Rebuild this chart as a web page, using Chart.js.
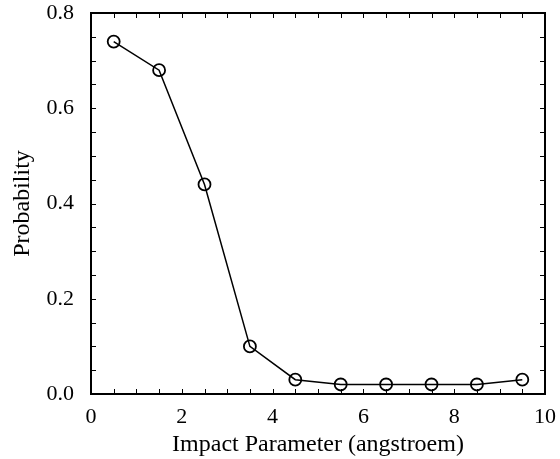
<!DOCTYPE html>
<html>
<head>
<meta charset="utf-8">
<script src="https://cdn.jsdelivr.net/npm/chart.js@4/dist/chart.umd.min.js"></script>
<style>
  html, body { margin: 0; padding: 0; background: #fff; }
  #wrap { width: 560px; height: 459px; }
</style>
</head>
<body>
<div id="wrap"><canvas id="c" width="560" height="459"></canvas></div>
<script>
// Impact parameter (angstroem) and the reaction probability at each value
const impactParameter = [0.5, 1.5, 2.5, 3.5, 4.5, 5.5, 6.5, 7.5, 8.5, 9.5];
const probability = [0.74, 0.68, 0.44, 0.10, 0.03, 0.02, 0.02, 0.02, 0.02, 0.03];

const xTickLabels = ['0', '2', '4', '6', '8', '10'];
const yTickLabels = ['0.0', '0.2', '0.4', '0.6', '0.8'];

const points = impactParameter.map((x, i) => ({ x: x, y: probability[i] }));

const serif = '"Liberation Serif", "Times New Roman", serif';

// Frame around the plot area with inward ticks on all four sides
const framePlugin = {
  id: 'frame',
  afterDraw(chart) {
    const { ctx, chartArea: a, scales: { x, y } } = chart;
    const len = 5;
    ctx.save();
    ctx.strokeStyle = '#000';
    ctx.lineWidth = 1;
    ctx.beginPath();
    for (let v = 0; v <= 10.0001; v += 0.5) {
      const px = Math.round(x.getPixelForValue(v)) + 0.5;
      ctx.moveTo(px, a.bottom); ctx.lineTo(px, a.bottom - len);
      ctx.moveTo(px, a.top); ctx.lineTo(px, a.top + len);
    }
    for (let v = 0; v <= 0.80001; v += 0.05) {
      const py = Math.round(y.getPixelForValue(v)) + 0.5;
      ctx.moveTo(a.left, py); ctx.lineTo(a.left + len, py);
      ctx.moveTo(a.right, py); ctx.lineTo(a.right - len, py);
    }
    ctx.stroke();
    ctx.lineWidth = 2;
    ctx.strokeRect(a.left, a.top, a.right - a.left, a.bottom - a.top);
    ctx.restore();
  }
};

new Chart(document.getElementById('c'), {
  type: 'scatter',
  data: {
    datasets: [{
      data: points,
      showLine: true,
      borderColor: '#000',
      borderWidth: 1.5,
      backgroundColor: 'rgba(0,0,0,0)',
      pointBorderColor: '#000',
      pointBackgroundColor: 'rgba(0,0,0,0)',
      pointBorderWidth: 1.8,
      pointRadius: 6,
      pointHoverRadius: 6,
      tension: 0
    }]
  },
  options: {
    responsive: false,
    animation: false,
    events: [],
    layout: { padding: { left: 0, right: 15, top: 13, bottom: 0 } },
    plugins: { legend: { display: false }, tooltip: { enabled: false } },
    scales: {
      x: {
        type: 'linear',
        min: 0, max: 10,
        grid: { display: false },
        border: { display: false },
        afterFit(s) { s.height = 65; s.paddingLeft = 0; s.paddingRight = 0; },
        ticks: {
          stepSize: 2,
          padding: 2,
          color: '#000',
          font: { family: serif, size: 22 },
          callback: (v) => xTickLabels[Math.round(v / 2)] ?? ''
        },
        title: {
          display: true,
          text: 'Impact Parameter (angstroem)',
          color: '#000',
          font: { family: serif, size: 24 },
          padding: { top: 0, bottom: 0 }
        }
      },
      y: {
        type: 'linear',
        min: 0, max: 0.8,
        grid: { display: false },
        border: { display: false },
        afterFit(s) { s.width = 91; s.paddingTop = 0; s.paddingBottom = 0; },
        ticks: {
          stepSize: 0.2,
          padding: 9,
          color: '#000',
          font: { family: serif, size: 22 },
          callback: (v) => yTickLabels[Math.round(v / 0.2)] ?? ''
        },
        title: {
          display: true,
          text: 'Probability',
          color: '#000',
          font: { family: serif, size: 24 },
          padding: { top: 8, bottom: 0 }
        }
      }
    }
  },
  plugins: [framePlugin]
});
</script>
</body>
</html>
